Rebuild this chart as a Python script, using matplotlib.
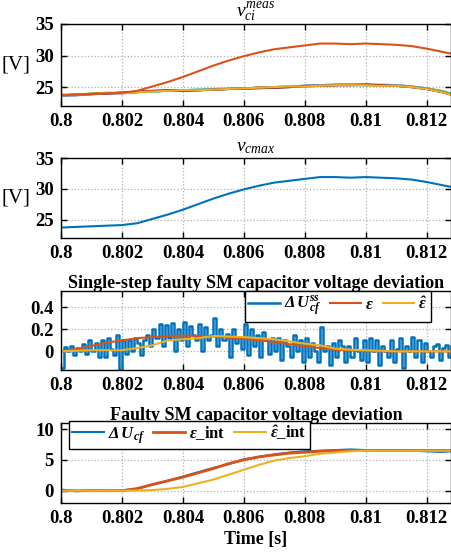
import numpy as np
import matplotlib
matplotlib.use("Agg")
import matplotlib.pyplot as plt

plt.rcParams['font.family'] = ['Liberation Serif', 'DejaVu Serif']
plt.rcParams['mathtext.fontset'] = 'custom'
plt.rcParams['mathtext.rm'] = 'Liberation Serif'
plt.rcParams['mathtext.it'] = 'Liberation Serif:italic'
plt.rcParams['mathtext.bf'] = 'Liberation Serif:bold'
plt.rcParams['mathtext.bfit'] = 'Liberation Serif:bold:italic'

# MATLAB default colours
c_blue = '#0072BD'
c_red = '#D95319'
c_yel = '#EDB120'
c_pur = '#7E2F8E'
c_grn = '#77AC30'
c_cyn = '#4DBEEE'
c_mar = '#A2142F'

# --- panel 1/2: capacitor voltages, sampled every 0.5 us ---
t_v = [0.8, 0.8005, 0.801, 0.8015, 0.802, 0.8025, 0.803, 0.8035, 0.804, 0.8045,
       0.805, 0.8055, 0.806, 0.8065, 0.807, 0.8075, 0.808, 0.8085, 0.809, 0.8095,
       0.81, 0.8105, 0.811, 0.8115, 0.812, 0.8125, 0.8128]
v_faulty = [23.7, 23.8, 23.9, 24.0, 24.1, 24.4, 25.1, 25.8, 26.6, 27.5,
            28.4, 29.2, 29.9, 30.5, 31.0, 31.3, 31.6, 31.9, 31.9, 31.8,
            31.9, 31.8, 31.7, 31.5, 31.1, 30.6, 30.3]
v_sm1 = [23.7, 23.8, 23.9, 24.0, 24.1, 24.2, 24.3, 24.4, 24.5, 24.5,
         24.6, 24.7, 24.7, 24.8, 24.9, 25.0, 25.1, 25.2, 25.3, 25.3,
         25.3, 25.3, 25.2, 25.0, 24.7, 24.2, 23.9]
v_sm2 = [23.6, 23.7, 23.9, 24.0, 24.0, 24.2, 24.4, 24.4, 24.4, 24.5,
         24.6, 24.7, 24.8, 24.9, 25.0, 25.1, 25.2, 25.3, 25.4, 25.4,
         25.4, 25.3, 25.3, 25.1, 24.8, 24.3, 23.8]
v_sm3 = [23.8, 23.8, 24.0, 24.1, 24.1, 24.2, 24.3, 24.5, 24.5, 24.6,
         24.6, 24.7, 24.8, 24.9, 25.0, 25.0, 25.1, 25.2, 25.3, 25.4,
         25.3, 25.3, 25.2, 25.0, 24.8, 24.4, 24.0]
v_sm4 = [23.6, 23.7, 23.8, 24.0, 24.1, 24.2, 24.3, 24.4, 24.5, 24.6,
         24.7, 24.8, 24.8, 24.9, 25.0, 25.1, 25.2, 25.3, 25.3, 25.4,
         25.4, 25.4, 25.3, 25.1, 24.8, 24.3, 23.9]
v_sm5 = [23.7, 23.8, 23.9, 24.0, 24.1, 24.3, 24.4, 24.5, 24.4, 24.5,
         24.6, 24.7, 24.8, 24.9, 24.9, 25.0, 25.2, 25.2, 25.3, 25.3,
         25.4, 25.3, 25.2, 25.0, 24.7, 24.2, 23.8]
v_sm6 = [23.7, 23.8, 23.9, 24.1, 24.0, 24.2, 24.3, 24.4, 24.5, 24.5,
         24.6, 24.7, 24.8, 24.9, 25.0, 25.1, 25.1, 25.2, 25.3, 25.3,
         25.3, 25.2, 25.2, 25.0, 24.7, 24.2, 23.8]

# --- panel 3: single-step deviation, sample time 0.1 ms ---
du_ss = [-0.15, 0.04, 0.0, 0.05, -0.03, 0.03, 0.0, 0.07, -0.02, 0.1,
         0.0, 0.08, -0.05, 0.1, -0.05, 0.12, 0.02, -0.03, 0.15, -0.17,
         0.1, -0.02, 0.1, 0.0, 0.12, 0.08, -0.03, 0.1, 0.15, 0.05,
         0.2, 0.12, 0.25, 0.05, 0.24, 0.12, 0.26, 0.0, 0.2, 0.1,
         0.27, 0.05, 0.23, 0.15, 0.1, 0.25, 0.0, 0.22, 0.1, 0.15,
         0.3, 0.05, 0.2, 0.1, 0.16, -0.05, 0.2, 0.08, 0.13, 0.02,
         0.25, -0.03, 0.2, 0.05, 0.15, -0.05, 0.18, 0.1, -0.02, 0.12,
         0.0, 0.12, -0.08, 0.1, 0.05, -0.05, 0.15, 0.0, 0.1, -0.1,
         0.12, -0.05, 0.08, 0.0, -0.1, 0.22, 0.0, 0.05, -0.12, 0.08,
         -0.05, 0.1, 0.05, -0.1, 0.05, -0.05, 0.12, 0.0, -0.08, 0.1,
         -0.1, 0.12, 0.0, 0.1, -0.12, 0.05, 0.0, -0.05, 0.1, -0.1,
         0.02, 0.12, -0.15, 0.05, 0.0, 0.13, -0.05, 0.1, -0.1, 0.08,
         0.0, -0.05, 0.05, 0.07, -0.08, 0.03, 0.06, -0.05, 0.05]
t_ss = np.arange(len(du_ss)) * 1e-4 + 0.8

t_e = [0.8, 0.8005, 0.801, 0.8015, 0.802, 0.8025, 0.803, 0.8035, 0.804, 0.8045,
       0.805, 0.8055, 0.806, 0.8065, 0.807, 0.8075, 0.808, 0.8085, 0.809, 0.8095,
       0.81, 0.8105, 0.811, 0.8115, 0.812, 0.8125, 0.8128]
eps = [0.0, 0.02, 0.05, 0.08, 0.10, 0.12, 0.13, 0.14, 0.143, 0.14,
       0.135, 0.125, 0.115, 0.10, 0.085, 0.065, 0.045, 0.03, 0.015, 0.007,
       0.002, 0.0, 0.0, 0.0, 0.0, 0.0, 0.0]
eps_hat = [0.0, 0.005, 0.01, 0.01, 0.01, 0.03, 0.055, 0.10, 0.11, 0.12,
           0.14, 0.135, 0.13, 0.12, 0.11, 0.09, 0.07, 0.055, 0.025, 0.015,
           0.01, 0.005, 0.0, 0.0, 0.0, 0.0, 0.0]

# --- panel 4: integrated deviation ---
du_cf = [0.2, -0.1, 0.05, 0.0, 0.05, 0.3, 1.0, 1.6, 2.3, 3.0,
         3.7, 4.3, 5.1, 5.5, 5.9, 6.2, 6.4, 6.5, 6.6, 6.7,
         6.6, 6.5, 6.5, 6.5, 6.4, 6.3, 6.4]
eps_int = [0.0, 0.0, 0.0, 0.0, 0.0, 0.35, 1.0, 1.6, 2.2, 2.9,
           3.6, 4.4, 5.0, 5.5, 5.8, 6.1, 6.25, 6.4, 6.5, 6.55,
           6.55, 6.55, 6.55, 6.55, 6.55, 6.55, 6.55]
eps_hat_int = [0.0, 0.0, 0.0, 0.0, 0.0, 0.02, 0.1, 0.3, 0.6, 1.2,
               1.8, 2.6, 3.4, 4.2, 4.9, 5.3, 5.6, 6.0, 6.2, 6.4,
               6.5, 6.5, 6.5, 6.5, 6.5, 6.5, 6.5]

xticks = [0.8, 0.802, 0.804, 0.806, 0.808, 0.81, 0.812]
xticklabels = ['0.8', '0.802', '0.804', '0.806', '0.808', '0.81', '0.812']

fig = plt.figure(figsize=(4.52, 5.55), dpi=100)
W = 452.0
H = 555.0
def add_ax(top, bottom):
    return fig.add_axes([61 / W, 1 - bottom / H, 390 / W, (bottom - top) / H])

ax1 = add_ax(24, 106)
ax2 = add_ax(158, 238)
ax3 = add_ax(291, 370)
ax4 = add_ax(423, 503)

lw = 1.5
for c, v in [(c_blue, v_sm1), (c_pur, v_sm2), (c_grn, v_sm3), (c_cyn, v_sm4),
             (c_mar, v_sm5), (c_yel, v_sm6)]:
    ax1.plot(t_v, v, color=c, lw=lw)
ax1.plot(t_v, v_faulty, color=c_red, lw=lw)
ax1.set_ylim(22, 35)
ax1.set_yticks([25, 30, 35])
ax1.set_title(r'$v_{ci}^{meas}$', fontsize=14, pad=5)
ax1.set_ylabel('[V]', fontsize=15, rotation=0, labelpad=14, va='center')

ax2.plot(t_v, v_faulty, color=c_blue, lw=lw)
ax2.set_ylim(22, 35)
ax2.set_yticks([25, 30, 35])
ax2.set_title(r'$v_{cmax}$', fontsize=14, pad=5)
ax2.set_ylabel('[V]', fontsize=15, rotation=0, labelpad=14, va='center')

ax3.plot(t_ss, du_ss, color=c_blue, lw=1.8, drawstyle='steps-post',
         label=r'$\mathbfit{\Delta\, U_{cf}^{ss}}$')
ax3.plot(t_e, eps, color=c_red, lw=lw, label=r'$\mathbfit{\epsilon}$')
ax3.plot(t_e, eps_hat, color=c_yel, lw=lw, label=r'$\mathbfit{\hat{\epsilon}}$')
ax3.set_ylim(-0.17, 0.55)
ax3.set_yticks([0, 0.2, 0.4])
ax3.set_yticklabels(['0', '0.2', '0.4'])
ax3.set_title('Single-step faulty SM capacitor voltage deviation', fontsize=13,
              fontweight='bold', pad=2)
leg3 = ax3.legend(loc='upper right', bbox_to_anchor=(0.948, 1.0), ncol=3, fontsize=12,
                  frameon=True, fancybox=False, edgecolor='black', framealpha=1,
                  handlelength=1.9, handletextpad=0.25, columnspacing=0.5,
                  borderpad=0.2, borderaxespad=0.0)
leg3.get_frame().set_linewidth(1.0)

ax4.plot(t_v, du_cf, color=c_blue, lw=lw, label=r'$\mathbfit{\Delta\, U_{cf}}$')
ax4.plot(t_e, eps_int, color=c_red, lw=2.0, label=r'$\mathbfit{\epsilon}$_int')
ax4.plot(t_e, eps_hat_int, color=c_yel, lw=lw, label=r'$\mathbfit{\hat{\epsilon}}$_int')
ax4.set_ylim(-2, 11)
ax4.set_yticks([0, 5, 10])
ax4.set_title('Faulty SM capacitor voltage deviation', fontsize=13, fontweight='bold', pad=2)
ax4.set_xlabel('Time [s]', fontsize=13, fontweight='bold', labelpad=3)
leg4 = ax4.legend(loc='upper left', bbox_to_anchor=(0.02, 1.03), ncol=3, fontsize=12,
                  frameon=True, fancybox=False, edgecolor='black', framealpha=1,
                  handlelength=1.9, handletextpad=0.25, columnspacing=0.5,
                  borderpad=0.2, borderaxespad=0.0)
leg4.get_frame().set_linewidth(1.0)
for leg in (leg3, leg4):
    for txt in leg.get_texts():
        txt.set_fontweight('bold')

for ax in (ax1, ax2, ax3, ax4):
    ax.set_xlim(0.8, 0.8128)
    ax.set_xticks(xticks)
    ax.set_xticklabels(xticklabels)
    ax.grid(True, linestyle=':', color='#b0b0b0', lw=0.9)
    ax.tick_params(direction='in', length=4, width=1.0, top=True, right=True,
                   labelsize=13.5, pad=5)
    for lab in ax.get_xticklabels() + ax.get_yticklabels():
        lab.set_fontweight('bold')
    for s in ax.spines.values():
        s.set_linewidth(1.0)

fig.savefig('out.png', dpi=100)
